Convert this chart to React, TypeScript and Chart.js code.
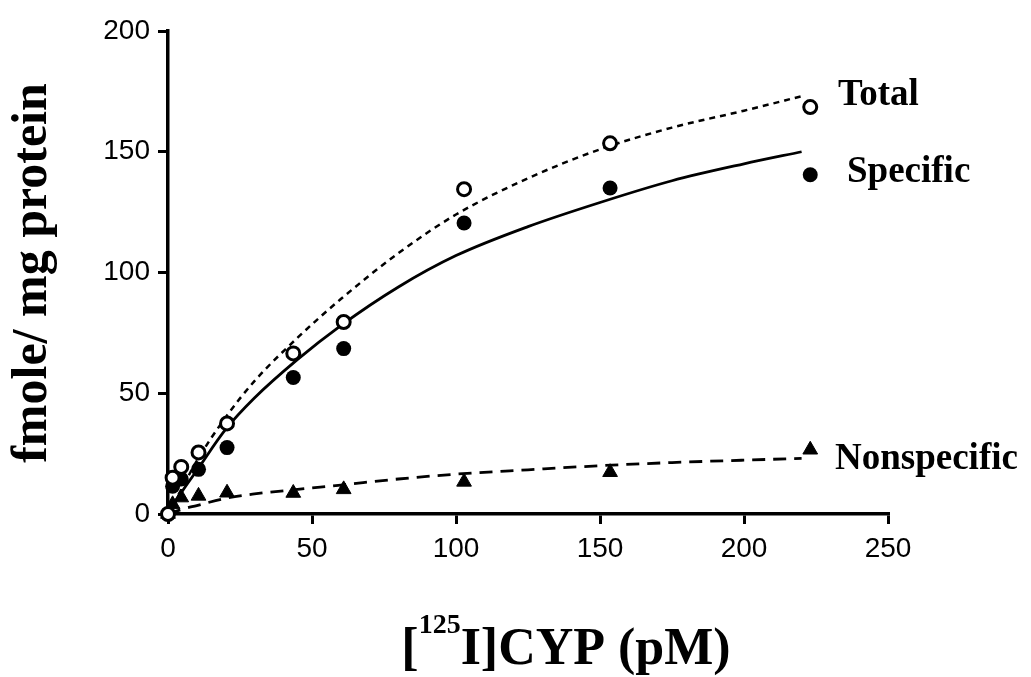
import React, { useEffect, useRef } from "react";
import { Chart, registerables } from "chart.js";

Chart.register(...registerables);

// Concentrations of [125I]CYP (pM) for the measured points
const concentrations = [0, 1.6, 4.6, 10.6, 20.5, 43.5, 61, 102.8, 153.5, 223];
// Measured binding (fmole / mg protein)
const totalValues = [0, 15, 19.5, 25.5, 37.5, 66.5, 79.5, 134.5, 153.5, 168.5];
const specificValues = [0, 11.5, 14.5, 18.5, 27.5, 56.5, 68.5, 120.5, 135, 140.5];
const nonspecificValues = [0, 4, 6.8, 7.5, 8.8, 8.7, 10.2, 13.3, 17.3, 26.6];

// Fitted curves
const curveX = [0, 5, 10, 20, 30, 45, 60, 80, 100, 125, 150, 175, 200, 220];
const totalCurve = [0, 11, 22, 40, 55, 73, 89, 108, 124, 139, 151, 160, 167, 173];
const specificCurve = [0, 9.5, 18, 35, 48, 64, 78, 94, 107, 119, 129, 138, 145, 150];
const nonspecificCurve = [0, 2, 3.5, 6.5, 8.3, 10.2, 12, 14.5, 16.5, 18.3, 20, 21.3, 22.3, 23];

const xTicks = [0, 50, 100, 150, 200, 250];
const yTicks = [0, 50, 100, 150, 200];

const seriesNames = ["Total", "Specific", "Nonspecific"];
const yTitle = "fmole/ mg protein";
const xTitleParts = ["[", "125", "I]CYP (pM)"];

const pts = (xs: number[], ys: number[]) => xs.map((x, i) => ({ x, y: ys[i] }));

const annotationPlugin = {
  id: "annotations",
  afterDraw(chart: any) {
    const ctx = chart.ctx as CanvasRenderingContext2D;
    ctx.save();
    ctx.fillStyle = "#000";

    // Y title
    ctx.save();
    ctx.font = 'bold 50px "Liberation Serif"';
    ctx.translate(46, 273);
    ctx.rotate(-Math.PI / 2);
    ctx.textAlign = "center";
    ctx.textBaseline = "alphabetic";
    ctx.fillText(yTitle, 0, 0);
    ctx.restore();

    // X title with superscript
    const mainFont = 'bold 52px "Liberation Serif"';
    const supFont = 'bold 28px "Liberation Serif"';
    ctx.textAlign = "left";
    ctx.textBaseline = "alphabetic";
    ctx.font = mainFont;
    const w0 = ctx.measureText(xTitleParts[0]).width;
    const w2 = ctx.measureText(xTitleParts[2]).width;
    ctx.font = supFont;
    const w1 = ctx.measureText(xTitleParts[1]).width;
    const total = w0 + w1 + w2;
    let x = 566 - total / 2;
    const base = 664;
    ctx.font = mainFont;
    ctx.fillText(xTitleParts[0], x, base);
    x += w0;
    ctx.font = supFont;
    ctx.fillText(xTitleParts[1], x, base - 31);
    x += w1;
    ctx.font = mainFont;
    ctx.fillText(xTitleParts[2], x, base);

    // Series labels
    ctx.font = 'bold 37px "Liberation Serif"';
    ctx.fillText(seriesNames[0], 838, 105);
    ctx.fillText(seriesNames[1], 847, 182);
    ctx.fillText(seriesNames[2], 835, 469);

    ctx.restore();
  },
};

export default function App() {
  const canvasRef = useRef<HTMLCanvasElement | null>(null);

  useEffect(() => {
    if (!canvasRef.current) return;
    const chart = new Chart(canvasRef.current, {
      type: "scatter",
      data: {
        datasets: [
          {
            label: seriesNames[0],
            data: pts(concentrations, totalValues),
            showLine: false,
            pointStyle: "circle",
            pointRadius: 6.5,
            pointBorderWidth: 3,
            pointBorderColor: "#000",
            pointBackgroundColor: "#fff",
            clip: false,
          },
          {
            label: seriesNames[1],
            data: pts(concentrations, specificValues),
            showLine: false,
            pointStyle: "circle",
            pointRadius: 7.5,
            pointBorderWidth: 0,
            pointBorderColor: "#000",
            pointBackgroundColor: "#000",
            clip: false,
          },
          {
            label: seriesNames[2],
            data: pts(concentrations, nonspecificValues),
            showLine: false,
            pointStyle: "triangle",
            pointRadius: 8.5,
            pointBorderWidth: 1,
            pointBorderColor: "#000",
            pointBackgroundColor: "#000",
            clip: false,
          },
          {
            label: seriesNames[0] + " fit",
            data: pts(curveX, totalCurve),
            showLine: true,
            borderColor: "#000",
            borderWidth: 2.5,
            borderDash: [6, 5],
            pointRadius: 0,
            cubicInterpolationMode: "monotone",
            clip: false,
          },
          {
            label: seriesNames[1] + " fit",
            data: pts(curveX, specificCurve),
            showLine: true,
            borderColor: "#000",
            borderWidth: 2.8,
            pointRadius: 0,
            cubicInterpolationMode: "monotone",
            clip: false,
          },
          {
            label: seriesNames[2] + " fit",
            data: pts(curveX, nonspecificCurve),
            showLine: true,
            borderColor: "#000",
            borderWidth: 2.8,
            borderDash: [13, 8],
            pointRadius: 0,
            cubicInterpolationMode: "monotone",
            clip: false,
          },
        ],
      },
      options: {
        responsive: false,
        animation: false,
        events: [],
        layout: { padding: { top: 31, right: 143, left: 0, bottom: 0 } },
        plugins: {
          legend: { display: false },
          tooltip: { enabled: false },
          title: { display: false },
        },
        scales: {
          x: {
            type: "linear",
            min: 0,
            max: 250,
            afterFit: (scale: any) => {
              scale.height = 163;
            },
            afterBuildTicks: (scale: any) => {
              scale.ticks = xTicks.map((v) => ({ value: v }));
            },
            border: { display: true, color: "#000", width: 3.5 },
            grid: {
              drawOnChartArea: false,
              drawTicks: true,
              tickLength: 10,
              color: "#000",
              lineWidth: 3,
            },
            ticks: {
              color: "#000",
              padding: 8,
              maxRotation: 0,
              font: { family: '"Liberation Sans"', size: 28 },
            },
          },
          y: {
            type: "linear",
            min: 0,
            max: 200,
            afterFit: (scale: any) => {
              scale.width = 168;
            },
            afterBuildTicks: (scale: any) => {
              scale.ticks = yTicks.map((v) => ({ value: v }));
            },
            border: { display: true, color: "#000", width: 3.5 },
            grid: {
              drawOnChartArea: false,
              drawTicks: true,
              tickLength: 10,
              color: "#000",
              lineWidth: 3,
            },
            ticks: {
              color: "#000",
              padding: 8,
              font: { family: '"Liberation Sans"', size: 28 },
            },
          },
        },
      },
      plugins: [annotationPlugin],
    });
    return () => chart.destroy();
  }, []);

  return (
    <div style={{ position: "fixed", left: 0, top: 0, width: 1031, height: 677, background: "#fff" }}>
      <canvas ref={canvasRef} width={1031} height={677} style={{ display: "block" }} />
    </div>
  );
}
